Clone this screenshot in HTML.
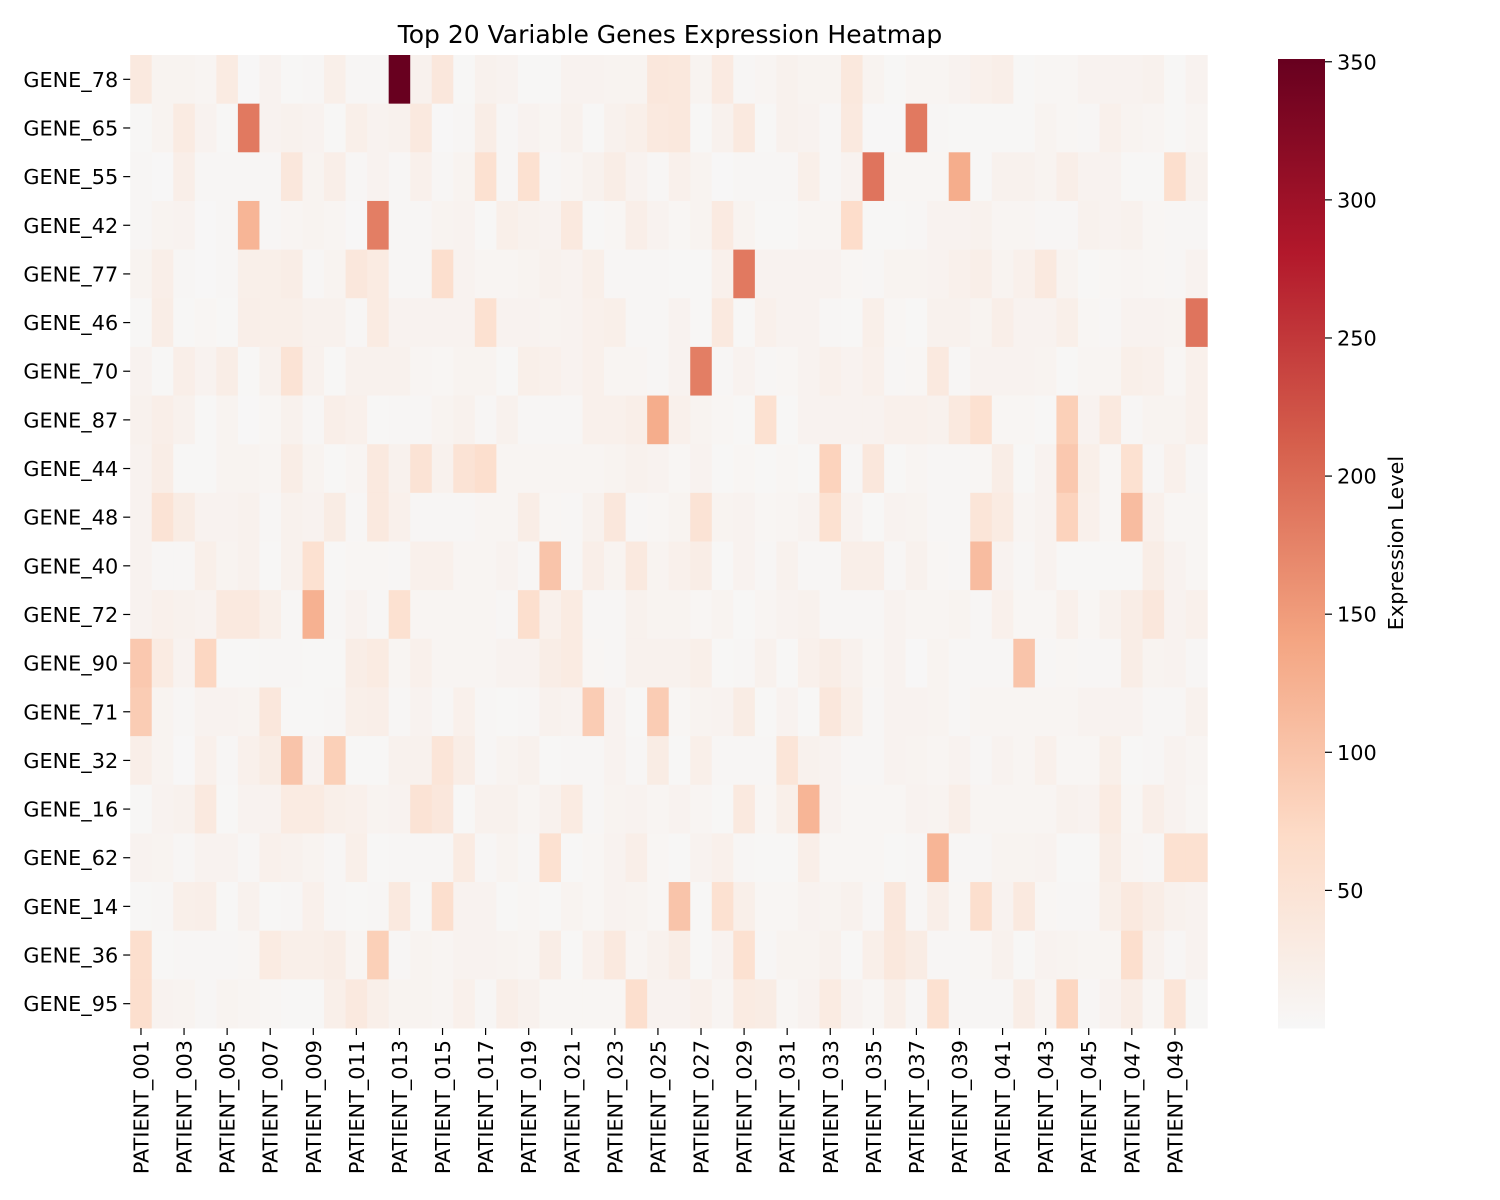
<!DOCTYPE html>
<html><head><meta charset="utf-8"><style>
html,body{margin:0;padding:0;background:#fff;}
svg{display:block;font-family:"DejaVu Sans","Liberation Sans",sans-serif;}
</style></head><body>
<svg id="chart" width="1500" height="1200" viewBox="0 0 1500 1200" xmlns="http://www.w3.org/2000/svg">
<rect width="1500" height="1200" fill="#fff"/>
<text x="670" y="43" font-size="25" text-anchor="middle" fill="#000">Top 20 Variable Genes Expression Heatmap</text>
<g id="cells"></g>
<g id="yaxis"></g>
<g id="xaxis"></g>
<defs><linearGradient id="cg" x1="0" y1="1" x2="0" y2="0">
<stop offset="0" stop-color="#f7f7f7"/><stop offset="0.2" stop-color="#fddbc7"/><stop offset="0.4" stop-color="#f4a582"/><stop offset="0.6" stop-color="#d6604d"/><stop offset="0.8" stop-color="#b2182b"/><stop offset="1" stop-color="#67001f"/>
</linearGradient></defs>
<rect x="1278" y="59" width="47" height="969.5" fill="url(#cg)"/>
<g id="cbar"></g>
<text transform="translate(1403,543) rotate(-90)" font-size="20.8" text-anchor="middle" fill="#000">Expression Level</text>
</svg>
<script>
const genes = ["GENE_78","GENE_65","GENE_55","GENE_42","GENE_77","GENE_46","GENE_70","GENE_87","GENE_44","GENE_48","GENE_40","GENE_72","GENE_90","GENE_71","GENE_32","GENE_16","GENE_62","GENE_14","GENE_36","GENE_95"];
const patients = [];
for (let i = 1; i <= 50; i++) patients.push("PATIENT_" + String(i).padStart(3, "0"));
const colorbarTicks = [50,100,150,200,250,300,350];
const values = [
[35,10,10,8,30,2,12,3,5,20,5,5,350,15,40,3,15,12,3,3,12,12,10,10,40, 38,10,32,4,8,15,10,10,38,10,3,8,8,12,18,22,3,6,6,12,12,12,15,3,12],
[3,10,30,12,3,185,12,15,12,3,20,12,15,35,2,5,25,5,12,8,15,3,15,20,35, 38,3,15,35,3,15,12,4,35,2,2,185,4,3,3,3,3,10,6,4,18,10,8,3,8],
[5,2,22,5,5,5,5,40,10,22,5,12,4,18,5,10,55,4,55,5,8,15,25,12,5, 18,10,2,5,5,5,20,4,12,190,6,6,6,130,3,15,15,10,22,12,12,3,3,60,15],
[5,10,12,2,5,120,5,8,10,8,2,180,4,4,10,12,3,20,15,12,35,3,6,22,12, 6,10,32,10,3,3,8,8,65,3,3,5,12,12,15,8,8,4,5,15,12,15,6,4,4],
[10,22,5,2,5,20,20,25,5,10,40,30,4,4,60,12,8,8,10,15,12,20,4,4,5, 3,3,18,185,12,12,12,12,6,4,10,10,12,18,22,10,18,35,10,3,6,8,6,4,12],
[3,25,3,6,3,22,20,20,15,15,5,30,12,12,12,12,55,12,12,10,12,18,20,4,4, 12,3,35,3,18,12,12,5,3,20,6,3,15,15,10,22,12,12,20,6,4,12,12,10,190],
[12,3,22,12,25,3,15,50,15,3,15,15,15,8,6,10,10,3,20,18,12,18,8,8,4, 12,180,4,12,5,6,12,18,12,18,4,6,35,4,12,12,12,10,3,8,8,20,18,6,18],
[15,22,15,3,10,2,6,15,5,22,18,3,5,5,10,15,5,15,4,4,5,18,18,22,130, 18,10,6,3,55,3,12,12,12,12,18,18,15,35,55,6,6,3,85,12,35,4,10,10,18],
[12,25,3,3,10,10,8,25,10,3,8,35,15,50,15,50,60,8,8,8,8,8,10,15,12, 6,12,3,6,3,6,3,80,5,40,3,8,4,4,6,25,3,12,95,20,6,55,5,18,4],
[12,50,28,12,12,15,4,15,12,28,4,35,18,5,5,5,8,8,25,6,4,15,40,4,6, 10,50,10,12,6,8,12,55,12,3,12,10,5,5,45,30,8,12,80,18,6,110,18,6,6],
[12,5,5,20,10,15,3,15,55,3,6,6,4,18,18,8,8,12,5,100,4,22,10,35,10, 18,25,3,12,5,15,4,5,22,22,5,15,6,4,110,12,5,12,3,3,3,3,25,12,6],
[12,18,15,12,35,35,20,4,125,4,12,4,55,8,8,8,8,4,60,18,30,4,5,15,10, 10,6,10,3,8,12,15,5,4,4,12,8,8,10,4,18,6,6,18,6,15,25,40,12,18],
[95,30,12,75,3,3,5,5,3,3,25,30,8,18,8,8,8,12,12,25,30,6,4,15,15, 15,20,3,4,15,3,18,25,15,6,12,2,10,5,5,5,100,4,6,5,5,25,10,12,4],
[90,10,5,12,12,10,40,3,3,4,20,22,5,12,5,18,5,3,4,15,12,90,12,3,90, 6,10,12,28,3,12,3,40,20,4,12,12,10,4,8,8,8,8,8,12,12,12,5,5,15],
[22,10,2,18,5,18,28,100,12,85,3,3,15,15,45,25,5,10,15,3,5,5,12,5,28, 3,20,5,5,5,45,15,12,4,4,12,10,8,12,5,12,8,18,6,6,20,3,5,12,8],
[3,12,15,35,3,12,12,30,30,20,18,10,12,50,40,3,15,15,8,15,30,4,10,12,8, 12,8,3,35,6,20,120,12,6,6,6,12,10,22,8,8,8,8,15,12,30,6,22,12,6],
[12,10,4,12,12,5,18,15,10,5,20,3,4,4,4,30,5,10,5,55,3,6,12,22,6, 3,12,18,4,3,3,22,6,6,6,3,4,120,4,4,10,10,12,3,3,25,8,4,55,55],
[3,5,20,22,3,15,3,5,18,5,3,5,35,3,60,12,12,3,6,3,10,6,12,10,6, 100,3,55,20,6,6,12,10,15,4,40,4,22,6,60,12,35,6,5,5,20,35,25,15,12],
[60,3,5,4,4,6,30,20,20,25,8,85,4,10,8,12,12,10,8,25,3,18,35,8,15, 25,3,12,55,5,10,10,15,3,20,38,28,5,5,6,15,3,12,10,8,8,60,15,4,12],
[60,12,10,5,10,8,6,3,3,20,35,20,10,10,8,18,4,22,15,6,6,6,6,60,12, 12,18,8,30,28,6,12,30,12,6,20,5,55,5,5,5,25,8,75,5,12,25,6,45,3]
];

const NS = "http://www.w3.org/2000/svg";
const X0 = 130.2, X1 = 1207.2, Y0 = 55, Y1 = 1028;
const VMAX = 351;
const cw = (X1 - X0) / patients.length, ch = (Y1 - Y0) / genes.length;
const xScale = i => X0 + i * cw;
const yScale = j => Y0 + j * ch;
const cbScale = v => 1028.5 - v * (969.5 / VMAX);
const stops = [[0,[247,247,247]],[0.2,[253,219,199]],[0.4,[244,165,130]],[0.6,[214,96,77]],[0.8,[178,24,43]],[1,[103,0,31]]];
function color(v){
  let t = Math.max(0, Math.min(1, v / VMAX));
  for (let k = 1; k < stops.length; k++) {
    if (t <= stops[k][0]) {
      const a = stops[k-1], b = stops[k], f = (t - a[0]) / (b[0] - a[0]);
      const c = a[1].map((x, i) => Math.round(x + (b[1][i] - x) * f));
      return "rgb(" + c.join(",") + ")";
    }
  }
  return "rgb(103,0,31)";
}
function mk(tag, attrs, parent){
  const e = document.createElementNS(NS, tag);
  for (const k in attrs) e.setAttribute(k, attrs[k]);
  parent.appendChild(e);
  return e;
}
const cells = document.getElementById("cells");
values.forEach((row, j) => {
  row.forEach((v, i) => {
    const r = mk("rect", {x: xScale(i), y: yScale(j), width: cw + 0.5, height: ch + 0.5, fill: color(v)}, cells);
    
    
  });
});
const ya = document.getElementById("yaxis");
genes.forEach((g, j) => {
  const yc = yScale(j) + ch / 2;
  const tk = mk("line", {x1: X0 - 7, x2: X0, y1: yc, y2: yc, stroke: "#000", "stroke-width": 1.2}, ya);
  
  
  const t = mk("text", {x: X0 - 12, y: yc + 7.5, "font-size": 20.8, "text-anchor": "end", fill: "#000"}, ya);
  t.textContent = g;
  
  
});
const xa = document.getElementById("xaxis");
patients.forEach((p, i) => {
  if (i % 2 !== 0) return;
  const xc = xScale(i) + cw / 2;
  const tk = mk("line", {x1: xc, x2: xc, y1: Y1, y2: Y1 + 7, stroke: "#000", "stroke-width": 1.2}, xa);
  
  
  const t = mk("text", {transform: "translate(" + (xc + 7.5) + "," + (Y1 + 12) + ") rotate(-90)", "font-size": 20.8, "text-anchor": "end", fill: "#000"}, xa);
  t.textContent = p;
  
  
});
const cb = document.getElementById("cbar");
colorbarTicks.forEach(v => {
  const y = cbScale(v);
  const tk = mk("line", {x1: 1325, x2: 1332, y1: y, y2: y, stroke: "#000", "stroke-width": 1.2}, cb);
  
  
  const t = mk("text", {x: 1337, y: y + 7.5, "font-size": 20.8, fill: "#000"}, cb);
  t.textContent = v;
  
  
});
</script>
</body></html>
